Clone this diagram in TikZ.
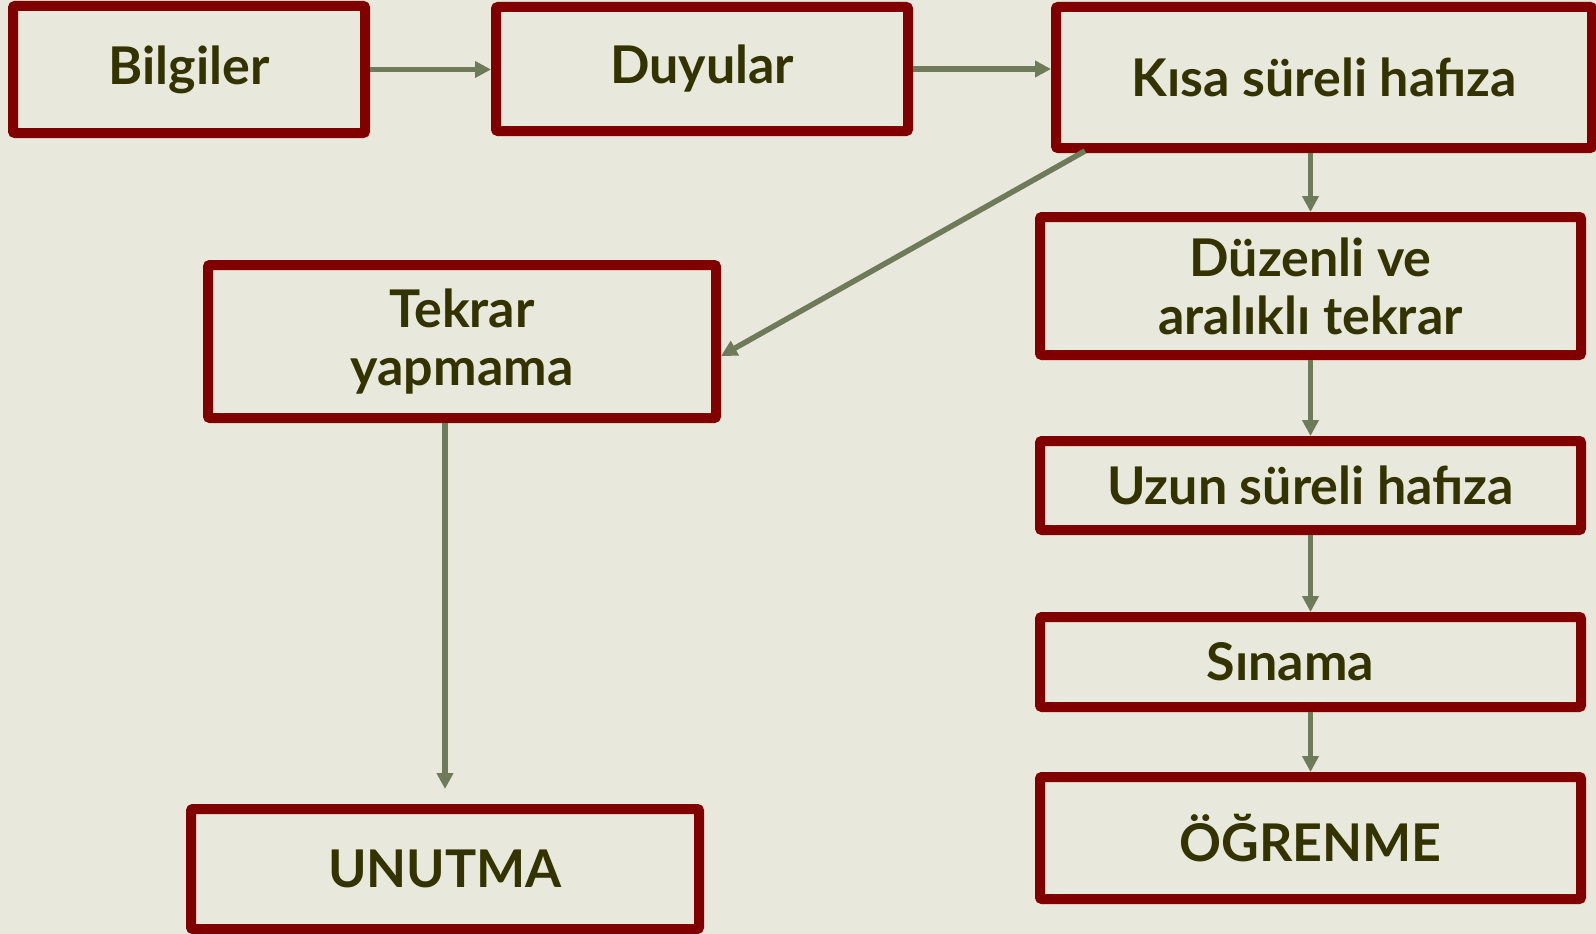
\documentclass[tikz,border=0pt]{standalone}
\usepackage{fontspec}
\setmainfont{Lato}
\usetikzlibrary{arrows.meta,calc}
\definecolor{bg}{RGB}{232,232,220}
\definecolor{boxred}{RGB}{128,0,0}
\definecolor{arrowc}{RGB}{111,123,88}
\definecolor{txt}{RGB}{51,51,0}
\begin{document}
\begin{tikzpicture}[x=1pt,y=-1pt,
  box/.style={draw=boxred, line width=10pt, rounded corners=2pt, text=txt,
    font=\fontsize{52}{58}\selectfont\bfseries, align=center, inner sep=0pt},
  arr/.style={draw=arrowc, line width=5.5pt, -{Triangle[length=16pt,width=16pt]}}]
\fill[bg] (0,0) rectangle (1596,934);
\useasboundingbox (0,0) rectangle (1596,934);
\node[box, minimum width=352pt, minimum height=127pt] (bil) at (189,69.5) {Bilgiler};
\node[box, minimum width=412pt, minimum height=124pt] (duy) at (702,69) {Duyular};
\node[box, minimum width=536pt, minimum height=141pt] (kis) at (1324,77.5) {Kısa süreli hafıza};
\node[box, minimum width=541pt, minimum height=138pt] (duz) at (1310.5,286) {Düzenli ve\\aralıklı tekrar};
\node[box, minimum width=508pt, minimum height=153pt] (tek) at (462,341.5) {Tekrar\\yapmama};
\node[box, minimum width=541pt, minimum height=89pt] (uzu) at (1310.5,485.5) {Uzun süreli hafıza};
\node[box, minimum width=541pt, minimum height=90pt] (sin) at (1310.5,662) {\hspace*{-40pt}Sınama};
\node[box, minimum width=541pt, minimum height=122pt] (ogr) at (1310.5,838) {ÖĞRENME};
\node[box, minimum width=508pt, minimum height=120pt] (unu) at (445,869) {UNUTMA};
\draw[arr] (bil.east) -- (bil.east -| duy.west);
\draw[arr] (duy.east) -- (duy.east -| kis.west);
\draw[arr] (kis.south -| duz.north) -- (duz.north);
\draw[arr] ($(kis.south west)+(34,-2)$) -- ($(tek.east)+(0,14.5)$);
\draw[arr, shorten >=15pt] (tek.south -| unu.north) -- (unu.north);
\draw[arr] (duz.south) -- (uzu.north);
\draw[arr] (uzu.south) -- (sin.north);
\draw[arr] (sin.south) -- (ogr.north);
\end{tikzpicture}
\end{document}
